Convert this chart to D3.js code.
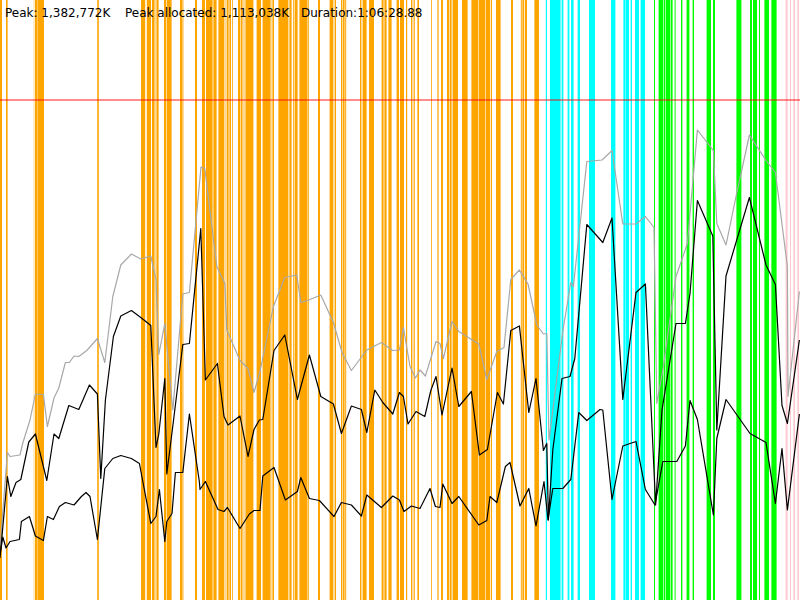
<!DOCTYPE html>
<html>
<head>
<meta charset="utf-8">
<script src="https://cdn.jsdelivr.net/npm/d3@7"></script>
<style>
  body { margin: 0; background: #fff; }
  svg { display: block; }
  text { font-family: 'DejaVu Sans', sans-serif; font-size: 12px; fill: #000; }
</style>
</head>
<body>
<svg id="chart" width="800" height="600"></svg>
<script>
// gc events, [start s, end s]
let minorGC = [
  [0,10],[30,38],[169,171],[175,187],[188,190],[190,220],[486,494],
  [705,725],[729,731],[735,755],[760,773],[776,778],[782,793],[820,830],[833,858],
  [900,913],[915,917],[975,985],[1010,1025],[1030,1063],[1067,1083],[1092,1120],
  [1123,1127],[1133,1143],[1147,1155],[1160,1164],[1190,1200],[1203,1213],[1218,1222],
  [1227,1267],[1283,1305],[1313,1350],[1352,1357],[1362,1370],[1392,1442],[1447,1458],
  [1465,1469],[1473,1488],[1497,1537],[1539,1544],[1590,1600],[1648,1667],[1673,1680],
  [1705,1710],[1713,1723],[1726,1731],[1800,1807],[1813,1833],[1845,1870],[1908,1918],
  [1922,1933],[1942,1958],[1983,1995],[2000,2020],[2030,2036],[2055,2062],[2068,2074],
  [2087,2095],[2156,2160],[2187,2193],[2205,2215],[2235,2247],[2250,2258],[2263,2290],
  [2310,2338],[2357,2392],[2395,2425],[2428,2450],[2454,2460],[2480,2503],[2555,2565],
  [2604,2609],[2612,2620],[2624,2635],[2672,2695]
]
let remarkGC = [
  [2729,2735],[2750,2803],[2808,2817],[2838,2847],[2855,2868],[2888,2900],[2945,2975],
  [3055,3077],[3117,3125],[3127,3145],[3153,3160],[3175,3195],[3203,3225]
]
let mixedGC = [
  [3270,3275],[3293,3317],[3320,3327],[3330,3350],[3353,3363],[3373,3378],[3405,3412],
  [3433,3447],[3463,3470],[3533,3555],[3565,3575],[3682,3707],[3750,3760],[3765,3785],
  [3795,3800],[3822,3845],[3857,3883]
]
let fullGC = [[3928,3938],[3950,3955],[3967,3975],[3987,3995]]

// heap samples, [time s, MB]
let heapCommitted = [
  [0,104],[37,295],[50,287],[100,290],[114,314],[150,360],[177,412],[217,411],[237,347],
  [270,404],[294,424],[327,475],[347,475],[370,488],[394,487],[434,499],[487,523],[524,475],
  [564,607],[604,670],[657,692],[704,682],[754,688],[780,640],[794,491],[824,553],[864,380],
  [914,612],[947,615],[1005,866],[1024,863],[1084,667],[1124,633],[1134,540],[1200,479],
  [1240,463],[1270,415],[1300,457],[1367,587],[1424,645],[1484,650],[1504,595],[1544,600],
  [1604,610],[1667,555],[1710,495],[1757,459],[1834,500],[1907,515],[1964,499],[1997,500],
  [2017,545],[2050,467],[2077,444],[2100,460],[2127,448],[2180,517],[2200,513],[2217,483],
  [2260,557],[2294,537],[2394,512],[2434,441],[2484,497],[2520,505],[2554,641],[2597,660],
  [2640,632],[2684,550],[2717,532],[2734,533],[2745,320],[2815,540],[2854,635],[2867,627],
  [2934,877],[3010,880],[3060,899],[3114,752],[3180,752],[3227,767],[3270,745],[3284,393],
  [3317,467],[3380,647],[3437,713],[3487,940],[3567,899],[3584,753],[3630,710],[3680,807],
  [3747,930],[3830,879],[3877,855],[3937,667],[3940,407],[3997,617]
]
let heapUsed = [
  [0,84],[37,247],[54,207],[80,235],[104,241],[144,316],[177,332],[234,239],[270,332],
  [294,323],[344,389],[394,381],[447,430],[487,412],[504,243],[527,400],[567,527],[604,568],
  [657,579],[704,565],[754,549],[780,305],[794,332],[824,443],[834,252],[870,367],[914,511],
  [947,513],[1004,743],[1027,440],[1087,473],[1120,367],[1140,350],[1200,368],[1240,287],
  [1270,341],[1297,360],[1314,361],[1370,499],[1424,530],[1487,401],[1547,490],[1604,407],
  [1667,392],[1707,333],[1757,388],[1807,381],[1834,335],[1874,420],[1914,395],[1964,372],
  [1997,415],[2017,407],[2040,352],[2080,377],[2124,367],[2154,419],[2180,447],[2210,370],
  [2260,464],[2294,387],[2357,417],[2397,290],[2437,301],[2487,415],[2517,392],[2554,539],
  [2597,548],[2644,375],[2680,443],[2717,299],[2734,313],[2742,160],[2764,300],[2810,443],
  [2850,447],[2874,483],[2934,751],[3014,715],[3060,764],[3114,401],[3180,615],[3227,632],
  [3278,190],[3310,380],[3380,553],[3427,553],[3450,613],[3487,799],[3564,728],[3584,340],
  [3630,648],[3747,805],[3830,670],[3877,631],[3910,389],[3937,353],[3997,520]
]
let heapAfterGC = [
  [0,90],[14,126],[30,104],[50,117],[97,121],[107,157],[147,167],[177,128],[217,119],
  [237,167],[267,161],[297,187],[327,195],[370,190],[407,207],[430,215],[450,207],[487,121],
  [524,263],[564,283],[604,289],[657,283],[697,273],[754,153],[780,167],[797,221],[824,117],
  [834,157],[860,173],[877,255],[914,255],[947,372],[997,236],[1000,221],[1027,237],
  [1090,181],[1120,177],[1137,185],[1200,143],[1247,172],[1270,179],[1300,179],[1314,248],
  [1370,265],[1427,200],[1487,217],[1504,245],[1547,203],[1597,199],[1670,167],[1707,195],
  [1757,190],[1807,168],[1834,210],[1907,185],[1964,208],[1997,200],[2020,177],[2057,188],
  [2100,183],[2150,223],[2177,187],[2200,185],[2214,232],[2260,193],[2294,207],[2394,150],
  [2434,159],[2450,207],[2484,195],[2527,267],[2550,275],[2600,188],[2644,223],[2680,148],
  [2720,237],[2740,160],[2764,223],[2814,223],[2854,241],[2894,375],[2934,359],[3000,381],
  [3014,380],[3060,201],[3114,308],[3180,317],[3227,221],[3275,190],[3314,277],[3384,277],
  [3427,308],[3450,399],[3487,361],[3567,170],[3584,323],[3630,401],[3750,333],[3830,315],
  [3877,193],[3910,303],[3937,180],[3997,372]
]
let heapLimit = 1000
let summary = [
  {label: 'Peak: 1,382,772K', at: 5},
  {label: 'Peak allocated: 1,113,038K', at: 125},
  {label: 'Duration:1:06:28.88', at: 301}
]

let width = 800, height = 600
let svg = d3.select('#chart')

let x = d3.scaleLinear().domain([0, 4000]).range([0, width])
let y = d3.scaleLinear().domain([0, 1200]).range([height, 0])

function drawEvents(list, color) {
  svg.append('g')
    .selectAll('rect')
    .data(list)
    .join('rect')
    .attr('x', d => x(d[0]))
    .attr('y', 0)
    .attr('width', d => x(d[1]) - x(d[0]))
    .attr('height', height)
    .attr('fill', color)
}

drawEvents(minorGC, '#ffa500')
drawEvents(remarkGC, '#00ffff')
drawEvents(mixedGC, '#00ff00')
drawEvents(fullGC, '#ffc8d0')

svg.append('line')
  .attr('x1', 0)
  .attr('x2', width)
  .attr('y1', y(heapLimit))
  .attr('y2', y(heapLimit))
  .attr('stroke', '#ff0000')
  .attr('stroke-opacity', 0.6)
  .attr('stroke-width', 1.5)

let line = d3.line()
  .x(d => x(d[0]))
  .y(d => y(d[1]))

function drawSeries(list, color, w) {
  svg.append('path')
    .datum(list)
    .attr('d', line)
    .attr('fill', 'none')
    .attr('stroke', color)
    .attr('stroke-width', w)
    .attr('stroke-linejoin', 'round')
}

drawSeries(heapCommitted, '#a8a8a8', 1.2)
drawSeries(heapUsed, '#000', 1.2)
drawSeries(heapAfterGC, '#000', 1.2)

svg.append('g')
  .selectAll('text')
  .data(summary)
  .join('text')
  .attr('x', d => d.at)
  .attr('y', 17)
  .text(d => d.label)
</script>
</body>
</html>
